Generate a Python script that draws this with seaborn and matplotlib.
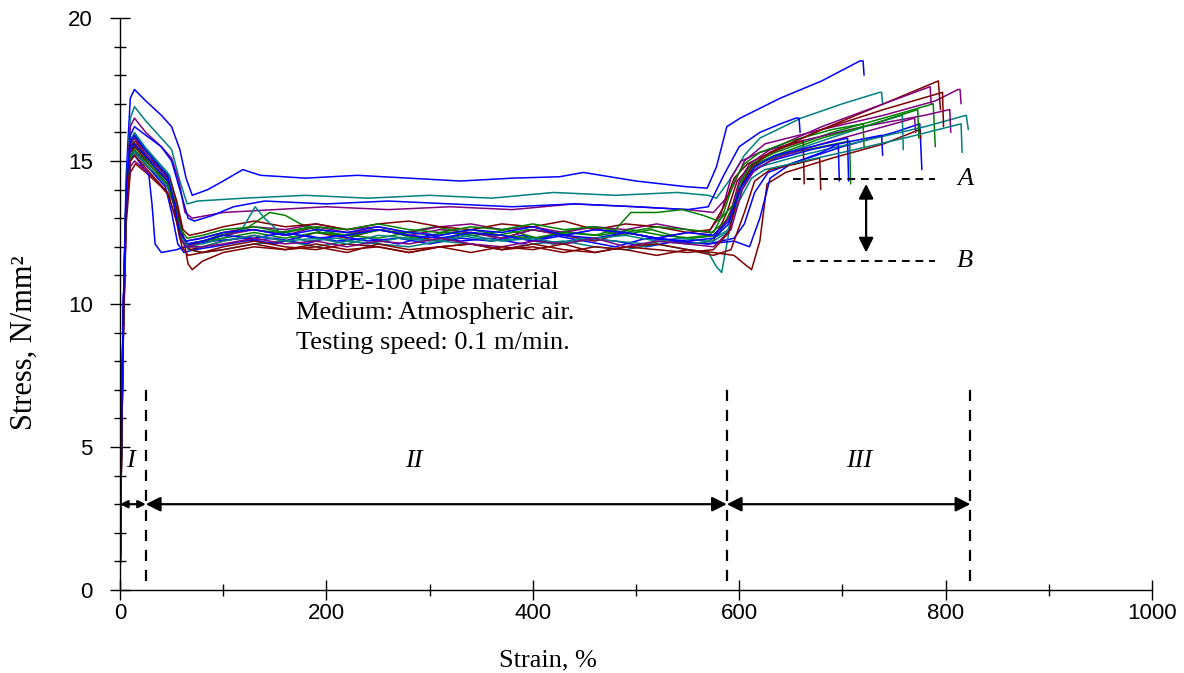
import numpy as np
import pandas as pd
import seaborn as sns
import matplotlib.pyplot as plt
from matplotlib.ticker import MultipleLocator

# colours used by the test machine export
BLUE, TEAL, PURPLE, GREEN, DRED = '#0000FF', '#008080', '#800080', '#008000', '#800000'

# --- individual specimens (strain %, stress N/mm2) ---
s01_x = [0, 1, 3, 6, 10, 14, 25, 40, 50, 58, 64, 70, 85, 100, 119, 136, 180, 230, 280, 330, 380, 426, 449, 500, 549, 569, 578, 588, 601, 640, 680, 717, 720, 721]
s01_y = [0, 4, 9.5, 14.5, 17.2, 17.5, 17.1, 16.6, 16.2, 15.4, 14.4, 13.8, 14.0, 14.3, 14.7, 14.5, 14.4, 14.5, 14.4, 14.3, 14.4, 14.45, 14.6, 14.3, 14.1, 14.05, 14.8, 16.2, 16.5, 17.2, 17.8, 18.5, 18.5, 18.0]

s02_x = [0, 1, 3, 6, 10, 14, 25, 40, 50, 58, 65, 75, 120, 180, 240, 300, 360, 420, 480, 540, 570, 578, 590, 605, 620, 660, 700, 736, 738, 739]
s02_y = [0, 4, 9, 14, 16.5, 16.9, 16.4, 15.8, 15.4, 14.3, 13.5, 13.6, 13.7, 13.8, 13.7, 13.8, 13.7, 13.9, 13.8, 13.9, 13.8, 13.7, 14.3, 15.2, 15.8, 16.5, 17.0, 17.4, 17.4, 17.0]

s03_x = [0, 1, 3, 6, 10, 14, 25, 40, 50, 57, 63, 70, 100, 150, 200, 260, 320, 380, 440, 500, 550, 575, 590, 605, 625, 680, 740, 790, 812, 814, 815]
s03_y = [0, 4, 9, 13.8, 16.2, 16.5, 16.0, 15.5, 15.1, 14.3, 13.2, 13.0, 13.2, 13.3, 13.4, 13.3, 13.4, 13.3, 13.5, 13.4, 13.3, 13.2, 13.8, 15.0, 15.6, 16.1, 16.6, 17.1, 17.5, 17.5, 17.0]

s04_x = [0, 1, 3, 6, 10, 14, 25, 40, 50, 58, 66, 72, 90, 110, 140, 200, 260, 320, 380, 440, 500, 550, 570, 585, 600, 620, 640, 655, 658, 659]
s04_y = [0, 4, 9, 13.5, 15.9, 16.2, 15.9, 15.5, 15.0, 14.0, 13.0, 12.9, 13.1, 13.4, 13.6, 13.5, 13.6, 13.5, 13.4, 13.5, 13.4, 13.3, 13.4, 14.5, 15.5, 16.0, 16.3, 16.5, 16.5, 16.0]

s05_x = [0, 1, 3, 6, 10, 15, 25, 38, 50, 56, 62, 68, 80, 100, 130, 160, 190, 220, 250, 280, 310, 340, 370, 400, 430, 460, 490, 520, 550, 575, 588, 598, 610, 630, 680, 740, 793, 795]
s05_y = [0, 4, 9.5, 13.5, 15.3, 15.6, 15.1, 14.6, 14.2, 13.3, 12.2, 11.9, 12.0, 12.2, 12.4, 12.2, 12.5, 12.3, 12.6, 12.4, 12.2, 12.5, 12.3, 12.6, 12.4, 12.2, 12.5, 12.3, 12.1, 12.2, 13.2, 14.3, 14.8, 15.3, 16.1, 17.0, 17.8, 16.8]

s06_x = [0, 1, 3, 6, 10, 14, 24, 36, 46, 52, 58, 63, 75, 95, 125, 155, 185, 215, 245, 275, 305, 335, 365, 395, 425, 455, 485, 515, 545, 570, 590, 600, 612, 635, 690, 750, 788, 790]
s06_y = [0, 3.5, 9, 13.8, 15.5, 15.8, 15.4, 14.9, 14.4, 13.6, 12.4, 12.0, 12.1, 12.4, 12.6, 12.5, 12.7, 12.4, 12.6, 12.5, 12.7, 12.5, 12.4, 12.6, 12.5, 12.7, 12.4, 12.6, 12.3, 12.4, 13.0, 14.2, 14.9, 15.3, 16.0, 16.6, 17.0, 15.5]

s07_x = [0, 1, 3, 6, 10, 14, 22, 34, 44, 50, 56, 62, 72, 90, 120, 150, 180, 210, 240, 270, 300, 330, 360, 390, 420, 450, 480, 510, 540, 570, 595, 605, 615, 628, 650, 700, 750, 775, 777]
s07_y = [0, 4, 9.5, 13.5, 15.1, 15.4, 15.0, 14.5, 14.1, 13.2, 12.1, 11.8, 11.9, 12.0, 12.2, 12.3, 12.1, 12.4, 12.2, 12.3, 12.1, 12.3, 12.2, 12.4, 12.1, 12.3, 12.2, 12.0, 12.2, 12.1, 12.3, 12.8, 13.9, 14.6, 14.9, 15.5, 16.0, 16.3, 14.7]

s08_x = [0, 1, 3, 6, 10, 15, 25, 38, 48, 55, 61, 66, 80, 100, 130, 160, 190, 220, 250, 280, 310, 340, 370, 400, 430, 460, 490, 520, 550, 570, 578, 583, 590, 600, 620, 660, 720, 780, 820, 822]
s08_y = [0, 4, 9, 13.7, 15.6, 15.9, 15.4, 14.9, 14.5, 13.5, 12.3, 11.9, 11.8, 11.9, 12.1, 12.2, 12.0, 12.2, 12.1, 12.0, 12.2, 12.1, 11.9, 12.1, 12.2, 12.0, 11.9, 12.1, 11.9, 11.8, 11.3, 11.1, 12.5, 14.2, 14.8, 15.2, 15.7, 16.2, 16.6, 16.1]

s09_x = [0, 1, 3, 6, 10, 14, 24, 36, 46, 53, 59, 64, 78, 100, 130, 160, 190, 220, 250, 280, 310, 340, 370, 400, 430, 460, 490, 520, 550, 570, 582, 592, 602, 620, 660, 720, 780, 804, 805]
s09_y = [0, 3.5, 8.5, 13.3, 15.0, 15.3, 14.9, 14.5, 14.1, 13.4, 12.5, 12.2, 12.3, 12.5, 12.7, 12.6, 12.8, 12.6, 12.7, 12.5, 12.7, 12.8, 12.6, 12.7, 12.5, 12.7, 12.6, 12.8, 12.6, 12.5, 13.1, 14.4, 15.0, 15.3, 15.7, 16.2, 16.6, 16.8, 16.0]

s10_x = [0, 1, 3, 6, 10, 15, 25, 40, 52, 60, 66, 70, 80, 100, 130, 160, 190, 220, 250, 280, 310, 340, 370, 400, 430, 460, 490, 520, 550, 575, 595, 605, 612, 620, 627, 645, 690, 740, 775, 776]
s10_y = [0, 3.5, 8.5, 12.8, 14.6, 14.9, 14.6, 14.1, 13.6, 12.6, 11.4, 11.2, 11.5, 11.8, 12.0, 11.9, 12.1, 11.9, 12.0, 11.8, 12.0, 12.1, 11.9, 12.0, 11.8, 12.0, 11.9, 11.7, 11.9, 11.8, 11.7, 11.4, 11.2, 12.2, 14.2, 14.6, 15.1, 15.6, 16.1, 15.8]

s11_x = [0, 1, 3, 6, 10, 14, 24, 36, 46, 54, 60, 66, 80, 100, 125, 145, 160, 175, 195, 225, 255, 285, 315, 345, 375, 405, 435, 465, 495, 525, 555, 580, 595, 605, 618, 640, 680, 707, 708]
s11_y = [0, 4, 9, 13.6, 15.3, 15.5, 15.1, 14.7, 14.3, 13.4, 12.3, 12.1, 12.2, 12.4, 12.7, 13.2, 13.1, 12.8, 12.5, 12.4, 12.6, 12.3, 12.5, 12.4, 12.6, 12.3, 12.5, 12.4, 12.6, 12.4, 12.3, 12.4, 13.5, 14.5, 14.9, 15.2, 15.5, 15.7, 14.2]

s12_x = [0, 1, 3, 6, 10, 14, 22, 28, 31, 34, 40, 55, 70, 90, 120, 150, 180, 210, 240, 270, 300, 330, 360, 390, 420, 450, 480, 510, 540, 570, 595, 610, 620, 630, 650, 680, 696, 697]
s12_y = [0, 4, 9.5, 13.7, 15.0, 15.2, 14.8, 14.5, 13.5, 12.1, 11.8, 11.9, 12.1, 12.2, 12.3, 12.1, 12.4, 12.2, 12.3, 12.1, 12.4, 12.2, 12.3, 12.1, 12.4, 12.2, 12.0, 12.3, 12.2, 12.1, 12.2, 12.0, 13.0, 14.4, 14.9, 15.3, 15.6, 14.3]

s13_x = [0, 1, 3, 6, 10, 15, 25, 38, 48, 55, 61, 67, 80, 100, 130, 160, 190, 220, 250, 280, 310, 340, 370, 400, 430, 460, 490, 520, 550, 572, 585, 595, 608, 625, 645, 662, 663]
s13_y = [0, 4, 9, 13.8, 15.5, 15.7, 15.2, 14.8, 14.4, 13.6, 12.6, 12.4, 12.5, 12.7, 12.9, 12.7, 12.8, 12.6, 12.8, 12.9, 12.7, 12.6, 12.8, 12.7, 12.9, 12.6, 12.8, 12.7, 12.5, 12.6, 13.4, 14.4, 14.9, 15.2, 15.5, 15.7, 14.2]

s14_x = [0, 1, 3, 6, 10, 14, 24, 36, 46, 52, 58, 64, 80, 100, 118, 131, 140, 155, 180, 210, 240, 270, 300, 330, 360, 390, 420, 450, 480, 510, 540, 570, 590, 600, 612, 630, 680, 730, 758, 759]
s14_y = [0, 4, 9.5, 14, 15.7, 16.0, 15.5, 15.0, 14.6, 13.7, 12.5, 12.0, 12.1, 12.3, 12.6, 13.4, 13.0, 12.5, 12.2, 12.3, 12.1, 12.3, 12.2, 12.4, 12.2, 12.3, 12.1, 12.3, 12.2, 12.1, 12.3, 12.2, 12.6, 13.8, 14.7, 15.1, 15.7, 16.3, 16.6, 15.4]

s15_x = [0, 1, 3, 6, 10, 14, 24, 36, 46, 53, 60, 66, 80, 100, 130, 160, 190, 220, 250, 280, 310, 340, 370, 400, 430, 460, 490, 520, 550, 575, 590, 600, 610, 630, 680, 740, 785, 786]
s15_y = [0, 3.5, 8.5, 13.2, 14.8, 15.0, 14.7, 14.3, 13.9, 13.1, 12.3, 12.0, 12.2, 12.4, 12.6, 12.4, 12.7, 12.5, 12.6, 12.4, 12.6, 12.5, 12.3, 12.6, 12.4, 12.6, 12.5, 12.3, 12.5, 12.4, 13.0, 14.3, 14.9, 15.4, 16.2, 17.0, 17.6, 17.0]

s16_x = [0, 1, 3, 6, 10, 14, 24, 36, 46, 53, 59, 65, 80, 100, 130, 160, 190, 220, 250, 280, 310, 340, 370, 400, 430, 460, 480, 495, 520, 545, 565, 580, 595, 605, 615, 635, 680, 730, 773, 774]
s16_y = [0, 4, 9, 13.8, 15.4, 15.6, 15.2, 14.8, 14.4, 13.5, 12.4, 12.1, 12.2, 12.3, 12.5, 12.3, 12.5, 12.4, 12.3, 12.5, 12.4, 12.6, 12.4, 12.3, 12.5, 12.4, 12.6, 13.2, 13.2, 13.3, 13.1, 12.9, 13.5, 14.4, 14.9, 15.2, 15.8, 16.3, 16.8, 15.8]

s17_x = [0, 1, 3, 6, 10, 15, 25, 38, 48, 56, 62, 68, 80, 100, 130, 160, 190, 220, 250, 280, 310, 340, 370, 400, 430, 460, 490, 520, 550, 575, 592, 605, 615, 630, 655, 678, 679]
s17_y = [0, 3.5, 9, 13.6, 15.3, 15.5, 15.0, 14.5, 14.1, 13.2, 12.2, 11.9, 11.8, 12.0, 12.2, 12.0, 11.9, 12.1, 12.0, 11.8, 12.0, 12.1, 11.9, 12.1, 11.9, 11.8, 12.0, 12.1, 11.9, 11.7, 11.9, 13.2, 14.3, 14.7, 14.9, 15.1, 14.0]

s18_x = [0, 1, 3, 6, 10, 14, 24, 36, 46, 53, 59, 65, 80, 100, 130, 160, 190, 220, 250, 280, 310, 340, 370, 400, 430, 460, 490, 520, 550, 575, 590, 600, 612, 630, 670, 710, 738, 739]
s18_y = [0, 4, 9.5, 13.8, 15.4, 15.6, 15.2, 14.7, 14.3, 13.4, 12.4, 12.1, 12.2, 12.4, 12.3, 12.5, 12.3, 12.4, 12.6, 12.4, 12.3, 12.5, 12.4, 12.2, 12.4, 12.3, 12.5, 12.3, 12.2, 12.3, 12.8, 14.0, 14.6, 15.0, 15.4, 15.7, 15.9, 15.2]

s19_x = [0, 1, 3, 6, 10, 14, 24, 36, 46, 54, 60, 66, 80, 100, 130, 160, 190, 220, 250, 280, 310, 340, 370, 400, 430, 460, 490, 520, 550, 575, 588, 600, 612, 625, 650, 700, 760, 815, 816]
s19_y = [0, 3.5, 9, 13.4, 15.1, 15.3, 14.9, 14.5, 14.1, 13.3, 12.3, 12.0, 12.0, 12.2, 12.4, 12.2, 12.3, 12.1, 12.4, 12.3, 12.2, 12.4, 12.2, 12.3, 12.1, 12.3, 12.4, 12.2, 12.1, 12.2, 12.5, 13.6, 14.4, 14.7, 14.9, 15.3, 15.8, 16.3, 15.3]

s20_x = [0, 1, 3, 6, 10, 14, 24, 36, 46, 52, 58, 64, 80, 100, 130, 160, 190, 220, 250, 280, 310, 340, 370, 400, 430, 460, 490, 520, 550, 575, 592, 603, 615, 635, 680, 730, 770, 771]
s20_y = [0, 4, 9.5, 14, 15.6, 15.8, 15.3, 14.8, 14.4, 13.5, 12.3, 12.0, 12.0, 12.1, 12.3, 12.1, 12.2, 12.0, 12.2, 12.1, 12.3, 12.1, 12.0, 12.2, 12.1, 12.3, 12.0, 12.2, 12.1, 12.0, 12.6, 14.0, 14.7, 15.1, 15.6, 16.1, 16.5, 16.0]

s21_x = [0, 1, 3, 6, 10, 14, 24, 36, 46, 53, 59, 65, 80, 100, 130, 160, 190, 220, 250, 280, 310, 340, 370, 400, 430, 460, 490, 520, 550, 575, 585, 595, 605, 620, 650, 690, 720, 721]
s21_y = [0, 4, 9, 13.7, 15.2, 15.4, 15.0, 14.6, 14.2, 13.4, 12.6, 12.3, 12.4, 12.6, 12.7, 12.5, 12.7, 12.6, 12.8, 12.6, 12.5, 12.7, 12.6, 12.8, 12.6, 12.7, 12.5, 12.7, 12.6, 12.5, 13.2, 14.3, 14.9, 15.3, 15.7, 16.1, 16.3, 15.5]

s22_x = [0, 1, 3, 6, 10, 14, 24, 36, 46, 54, 60, 66, 80, 100, 130, 160, 190, 220, 250, 280, 310, 340, 370, 400, 430, 460, 490, 520, 550, 575, 590, 600, 612, 630, 680, 740, 797, 798]
s22_y = [0, 3.5, 8.5, 13.3, 15.0, 15.2, 14.8, 14.3, 13.9, 13.0, 12.0, 11.7, 11.8, 11.9, 12.1, 11.9, 12.0, 11.8, 12.1, 11.9, 12.0, 11.8, 12.0, 11.9, 12.1, 11.8, 12.0, 11.9, 11.8, 11.9, 12.5, 14.0, 14.8, 15.3, 16.1, 16.8, 17.4, 16.2]

s23_x = [0, 1, 3, 6, 10, 14, 24, 36, 46, 52, 58, 64, 80, 100, 130, 160, 190, 220, 250, 280, 310, 340, 370, 400, 430, 460, 490, 520, 550, 575, 590, 602, 615, 635, 670, 705, 706]
s23_y = [0, 4, 9.5, 14, 15.7, 15.9, 15.4, 14.9, 14.5, 13.6, 12.5, 12.2, 12.3, 12.5, 12.6, 12.4, 12.6, 12.5, 12.7, 12.5, 12.4, 12.6, 12.5, 12.7, 12.4, 12.6, 12.5, 12.3, 12.5, 12.4, 12.9, 14.1, 14.8, 15.2, 15.5, 15.8, 14.3]

specimens = [
    (s01_x, s01_y, BLUE), (s02_x, s02_y, TEAL), (s03_x, s03_y, PURPLE), (s04_x, s04_y, BLUE),
    (s05_x, s05_y, DRED), (s06_x, s06_y, GREEN), (s07_x, s07_y, BLUE), (s08_x, s08_y, TEAL),
    (s09_x, s09_y, PURPLE), (s10_x, s10_y, DRED), (s11_x, s11_y, GREEN), (s12_x, s12_y, BLUE),
    (s13_x, s13_y, DRED), (s14_x, s14_y, TEAL), (s15_x, s15_y, PURPLE), (s16_x, s16_y, GREEN),
    (s17_x, s17_y, DRED), (s18_x, s18_y, BLUE), (s19_x, s19_y, TEAL), (s20_x, s20_y, PURPLE),
    (s21_x, s21_y, GREEN), (s22_x, s22_y, DRED), (s23_x, s23_y, BLUE),
]

# region boundaries (strain) and A/B stress levels
bound_x = [25, 588, 824]
arrow_y = 3.0
level_A, level_B = 14.37, 11.5
level_x = [652, 790]

rows = []
for i, (xs, ys, c) in enumerate(specimens):
    for k, (a, b) in enumerate(zip(xs, ys)):
        rows.append({'spec': f's{i+1:02d}', 'strain': a, 'stress': b, 'order': k})
df = pd.DataFrame(rows)
pal = {f's{i+1:02d}': c for i, (_, _, c) in enumerate(specimens)}

sns.set_style('ticks')
plt.rcParams['font.family'] = ['Liberation Serif', 'DejaVu Serif']
plt.rcParams['text.color'] = 'k'
plt.rcParams['xtick.color'] = 'k'
plt.rcParams['ytick.color'] = 'k'

fig = plt.figure(figsize=(11.84, 6.73), dpi=100)
ax = fig.add_axes([120/1184, 83/673, 1032/1184, 572/673])

sns.lineplot(data=df, x='strain', y='stress', hue='spec', palette=pal, sort=False,
             estimator=None, legend=False, linewidth=1.1, ax=ax)

ax.set_xlim(0, 1000)
ax.set_ylim(0, 20)
ax.xaxis.set_major_locator(MultipleLocator(200))
ax.xaxis.set_minor_locator(MultipleLocator(100))
ax.yaxis.set_major_locator(MultipleLocator(5))
ax.yaxis.set_minor_locator(MultipleLocator(1))
ax.tick_params(which='major', direction='inout', length=15, width=1, color='k', labelcolor='k')
ax.tick_params(which='minor', direction='inout', length=9, width=1, color='k')
for lab in ax.get_xticklabels() + ax.get_yticklabels():
    lab.set_family('Liberation Sans')
    lab.set_fontsize(16)
ax.tick_params(axis='x', pad=2)
ax.tick_params(axis='y', pad=12)
sns.despine(ax=ax)
for s in ['left', 'bottom']:
    ax.spines[s].set_color('k')
    ax.spines[s].set_linewidth(1)
ax.set_xlabel('')
ax.set_ylabel('')

fig.text(548/1184, 1 - 660/673, 'Strain, %', ha='center', va='center', fontsize=19)
fig.text(24/1184, 1 - 343/673, 'Stress, N/mm²', ha='center', va='center', rotation=90, fontsize=22)

# region markers
for bx in bound_x:
    ax.plot([bx, bx], [0.3, 7.2], color='k', lw=1.6, ls=(0, (5, 4)))
ap = dict(arrowstyle='<|-|>', color='k', lw=1.6, shrinkA=0, shrinkB=0, mutation_scale=22)
ax.annotate('', xy=(0, arrow_y), xytext=(bound_x[0], arrow_y),
            arrowprops=dict(ap, mutation_scale=11))
ax.annotate('', xy=(bound_x[0], arrow_y), xytext=(bound_x[1], arrow_y), arrowprops=ap)
ax.annotate('', xy=(bound_x[1], arrow_y), xytext=(bound_x[2], arrow_y), arrowprops=ap)
ax.text(10, 4.5, 'I', style='italic', fontsize=19, ha='center', va='center')
ax.text(285, 4.5, 'II', style='italic', fontsize=19, ha='center', va='center')
ax.text(716, 4.5, 'III', style='italic', fontsize=19, ha='center', va='center')

# A / B levels
for lv, nm in [(level_A, 'A'), (level_B, 'B')]:
    ax.plot(level_x, [lv, lv], color='k', lw=1.4, ls=(0, (4, 3)))
    ax.text(811, lv, nm, style='italic', fontsize=19, ha='left', va='center')
ax.annotate('', xy=(723, 14.2), xytext=(723, 11.8), arrowprops=ap)

ax.text(171, 10.73, 'HDPE-100 pipe material', fontsize=19, va='center')
ax.text(171, 9.68, 'Medium: Atmospheric air.', fontsize=19, va='center')
ax.text(171, 8.64, 'Testing speed: 0.1 m/min.', fontsize=19, va='center')

fig.savefig('out.png', dpi=100)
